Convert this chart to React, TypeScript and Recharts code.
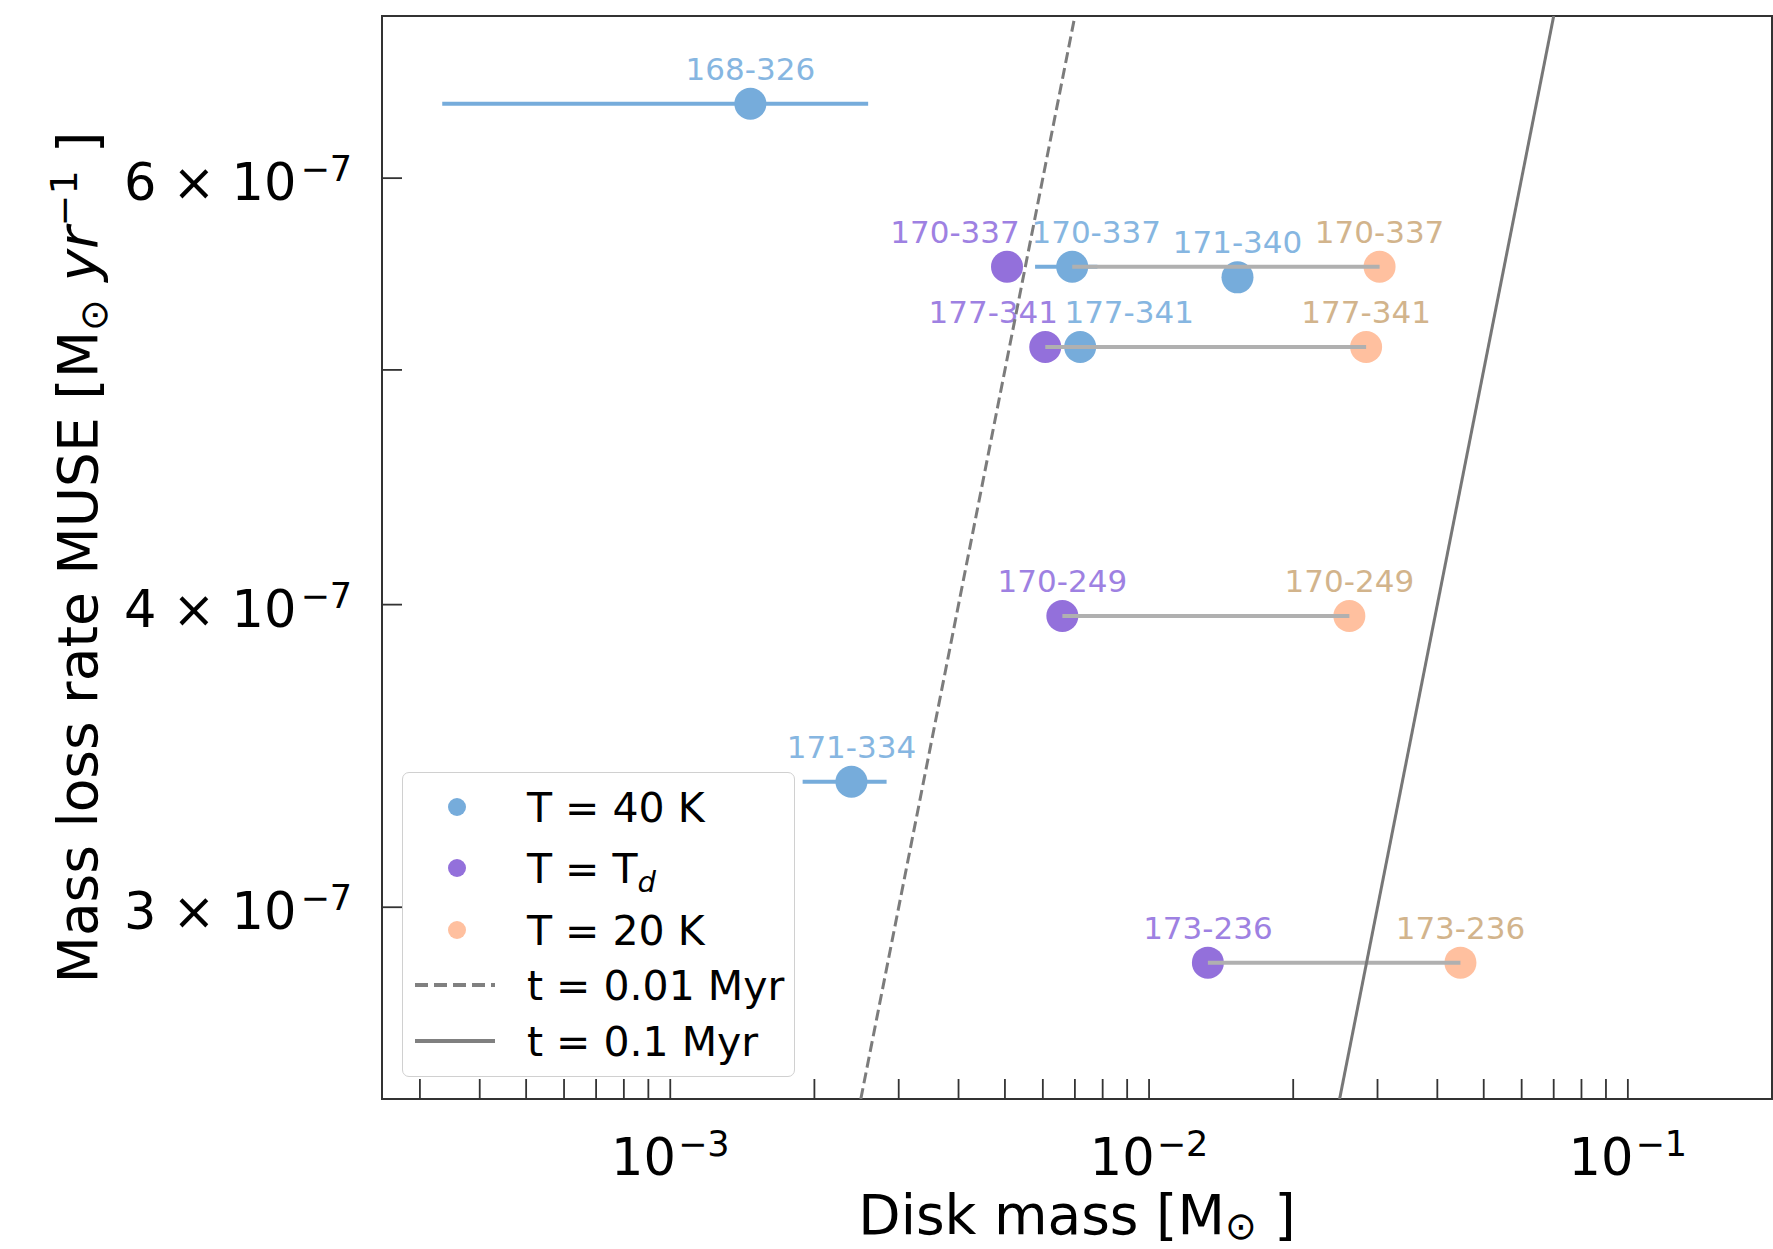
import React from "react";
import { ScatterChart, Scatter, XAxis, YAxis, ErrorBar, ReferenceArea } from "recharts";

const FONT = "'DejaVu Sans', sans-serif";

// T = 40 K
const NAMES_40K = ["168-326", "170-337", "171-340", "177-341", "171-334"];
const MASS_40K = [1.47e-3, 6.91e-3, 1.53e-2, 7.18e-3, 2.39e-3];
const RATE_40K = [6.44e-7, 5.515e-7, 5.46e-7, 5.11e-7, 3.38e-7];
// x error bar extent (low / high disk mass)
const MASS_40K_LOW = [3.34e-4, 5.78e-3, 1.53e-2, 7.18e-3, 1.89e-3];
const MASS_40K_HIGH = [2.59e-3, 7.8e-3, 1.53e-2, 7.18e-3, 2.83e-3];

// T = Td
const NAMES_TD = ["170-337", "177-341", "170-249", "173-236"];
const MASS_TD = [5.05e-3, 6.07e-3, 6.59e-3, 1.327e-2];
const RATE_TD = [5.515e-7, 5.11e-7, 3.957e-7, 2.846e-7];

// T = 20 K
const NAMES_20K = ["170-337", "177-341", "170-249", "173-236"];
const MASS_20K = [3.03e-2, 2.84e-2, 2.62e-2, 4.47e-2];
const RATE_20K = [5.515e-7, 5.11e-7, 3.957e-7, 2.846e-7];
// grey link to each 20 K point starts from this estimate
const LINK_FROM = ["40K", "Td", "Td", "Td"];

// depletion times, yr (0.01 Myr, 0.1 Myr)
const TIMES_YR = [1e4, 1e5];

const X_MIN = 2.5e-4;
const X_MAX = 0.2;
const Y_MIN = 2.5e-7;
const Y_MAX = 7e-7;

const X_TICKS = [
  3e-4, 4e-4, 5e-4, 6e-4, 7e-4, 8e-4, 9e-4, 1e-3,
  2e-3, 3e-3, 4e-3, 5e-3, 6e-3, 7e-3, 8e-3, 9e-3, 1e-2,
  2e-2, 3e-2, 4e-2, 5e-2, 6e-2, 7e-2, 8e-2, 9e-2, 1e-1,
];
const X_LABELS: Record<string, string> = { "0.001": "−3", "0.01": "−2", "0.1": "−1" };
const Y_TICKS = [3e-7, 4e-7, 5e-7, 6e-7];
const Y_LABELS: Record<string, string> = { "3e-7": "3", "4e-7": "4", "6e-7": "6" };

const BLUE = "#76acdb";
const PURPLE = "#9370db";
const PEACH = "#ffc09f";
const BLUE_TXT = "#86b6e1";
const PURPLE_TXT = "#9e81e2";
const PEACH_TXT = "#d2b48c";
const AXIS = "#333";

// nudges for labels that would collide
const LABEL_DX: Record<string, number> = {
  "Td:170-337": -52,
  "40K:170-337": 24,
  "Td:177-341": -52,
  "40K:177-341": 49,
};

const hot = NAMES_40K.map((name, i) => ({
  name,
  m: MASS_40K[i],
  rate: RATE_40K[i],
  err: [MASS_40K[i] - MASS_40K_LOW[i], MASS_40K_HIGH[i] - MASS_40K[i]],
}));
const dust = NAMES_TD.map((name, i) => ({ name, m: MASS_TD[i], rate: RATE_TD[i] }));
const cold = NAMES_20K.map((name, i) => ({ name, m: MASS_20K[i], rate: RATE_20K[i] }));

const links = cold.map((c, i) => {
  const from = (LINK_FROM[i] === "40K" ? hot : dust).find((d) => d.name === c.name)!;
  return [
    { m: from.m, rate: from.rate },
    { m: c.m, rate: c.rate },
  ];
});

const timeLines = TIMES_YR.map((t) => [
  { m: Y_MIN * t, rate: Y_MIN },
  { m: Y_MAX * t, rate: Y_MAX },
]);

const dot = (fill: string, txt: string, key: string) => (props: any) => {
  const { cx, cy, payload } = props;
  const dx = LABEL_DX[`${key}:${payload.name}`] ?? 0;
  return (
    <g>
      <circle cx={cx} cy={cy} r={16} fill={fill} />
      <text x={cx + dx} y={cy - 24} textAnchor="middle" fontSize={31} fontFamily={FONT} fill={txt}>
        {payload.name}
      </text>
    </g>
  );
};

const noShape = () => <g />;

const XTick = (props: any) => {
  const { x, y, payload } = props;
  const exp = X_LABELS[String(payload.value)];
  return (
    <g>
      <line x1={x} x2={x} y1={y} y2={y - 20} stroke={AXIS} strokeWidth={1.8} />
      {exp && (
        <text x={x} y={y + 76} textAnchor="middle" fontSize={51} fontFamily={FONT} fill="#000">
          10
          <tspan dx={2} dy={-19} fontSize={35}>{exp}</tspan>
        </text>
      )}
    </g>
  );
};

const YTick = (props: any) => {
  const { x, y, payload } = props;
  const mant = Y_LABELS[payload.value.toExponential()];
  return (
    <g>
      <line x1={x} x2={x + 20} y1={y} y2={y} stroke={AXIS} strokeWidth={1.8} />
      {mant && (
        <text x={x - 30} y={y + 22} textAnchor="end" fontSize={51} fontFamily={FONT} fill="#000">
          {`${mant} × 10`}
          <tspan dx={4} dy={-19} fontSize={35}>−7</tspan>
        </text>
      )}
    </g>
  );
};

const XTitle = (props: any) => {
  const vb = props.viewBox;
  return (
    <text x={vb.x + vb.width / 2} y={vb.y + 135} textAnchor="middle" fontSize={55} fontFamily={FONT} fill="#000">
      Disk mass [M
      <tspan dy={5} fontSize={38}>⊙</tspan>
      <tspan dy={-5}> ]</tspan>
    </text>
  );
};

const YTitle = (props: any) => {
  const vb = props.viewBox;
  const cx = vb.x + 97;
  const cy = vb.y + vb.height / 2;
  return (
    <text x={cx} y={cy} transform={`rotate(-90, ${cx}, ${cy})`} textAnchor="middle" fontSize={55} fontFamily={FONT} fill="#000">
      Mass loss rate MUSE [M
      <tspan dy={10} fontSize={38}>⊙</tspan>
      <tspan dy={-10}> </tspan>
      <tspan fontStyle="italic">yr</tspan>
      <tspan dy={-20} fontSize={38}>−1</tspan>
      <tspan dy={20}> ]</tspan>
    </text>
  );
};

const LEGEND_ROWS = [
  { kind: "dot", color: BLUE, label: "T = 40 K", y: 35 },
  { kind: "dot", color: PURPLE, label: "T = T", sub: "d", y: 96 },
  { kind: "dot", color: PEACH, label: "T = 20 K", y: 158 },
  { kind: "dash", color: "#808080", label: "t = 0.01 Myr", y: 213 },
  { kind: "solid", color: "#808080", label: "t = 0.1 Myr", y: 269 },
];

function LegendBox() {
  return (
    <div
      style={{
        position: "absolute",
        left: 402,
        top: 772,
        width: 393,
        height: 305,
        boxSizing: "border-box",
        background: "rgba(255,255,255,0.8)",
        border: "1.5px solid #d0d0d0",
        borderRadius: 7,
      }}
    >
      <svg width={393} height={305} style={{ position: "absolute", left: -1.5, top: -1.5 }}>
        {LEGEND_ROWS.map((r, i) => (
          <g key={i}>
            {r.kind === "dot" ? (
              <circle cx={55} cy={r.y} r={9} fill={r.color} />
            ) : (
              <line
                x1={13}
                x2={93}
                y1={r.y}
                y2={r.y}
                stroke={r.color}
                strokeWidth={4}
                strokeDasharray={r.kind === "dash" ? "13 6" : undefined}
              />
            )}
            <text x={125} y={r.y + 15} fontSize={41} fontFamily={FONT} fill="#000">
              {r.label}
              {r.sub && (
                <tspan dy={9} fontSize={29} fontStyle="italic">
                  {r.sub}
                </tspan>
              )}
            </text>
          </g>
        ))}
      </svg>
    </div>
  );
}

export default function App() {
  return (
    <div style={{ position: "absolute", left: 0, top: 0, width: 1773, height: 1249, background: "#fff" }}>
      <ScatterChart width={1773} height={1249} margin={{ top: 16, right: 1, bottom: 0, left: 0 }}>
        <XAxis
          type="number"
          dataKey="m"
          scale="log"
          domain={[X_MIN, X_MAX]}
          allowDataOverflow
          ticks={X_TICKS}
          interval={0}
          tick={<XTick />}
          tickLine={false}
          axisLine={false}
          tickSize={0}
          tickMargin={0}
          height={150}
          label={{ content: (p: any) => <XTitle {...p} /> }}
        />
        <YAxis
          type="number"
          dataKey="rate"
          scale="log"
          domain={[Y_MIN, Y_MAX]}
          allowDataOverflow
          ticks={Y_TICKS}
          interval={0}
          tick={<YTick />}
          tickLine={false}
          axisLine={false}
          tickSize={0}
          tickMargin={0}
          width={382}
          label={{ content: (p: any) => <YTitle {...p} /> }}
        />
        <ReferenceArea x1={X_MIN} x2={X_MAX} y1={Y_MIN} y2={Y_MAX} fill="none" stroke={AXIS} strokeWidth={2} />
        <Scatter data={hot} shape={dot(BLUE, BLUE_TXT, "40K")} isAnimationActive={false}>
          <ErrorBar dataKey="err" direction="x" width={0} stroke={BLUE} strokeWidth={4} />
        </Scatter>
        <Scatter data={dust} shape={dot(PURPLE, PURPLE_TXT, "Td")} isAnimationActive={false} />
        <Scatter data={cold} shape={dot(PEACH, PEACH_TXT, "20K")} isAnimationActive={false} />
        {links.map((pts, i) => (
          <Scatter
            key={`link-${i}`}
            data={pts}
            line={{ stroke: "#b0b0b0", strokeWidth: 4 }}
            shape={noShape}
            isAnimationActive={false}
          />
        ))}
        <Scatter
          data={timeLines[0]}
          line={{ stroke: "#7c7c7c", strokeWidth: 3, strokeDasharray: "11 5" }}
          shape={noShape}
          isAnimationActive={false}
        />
        <Scatter
          data={timeLines[1]}
          line={{ stroke: "#777", strokeWidth: 3 }}
          shape={noShape}
          isAnimationActive={false}
        />
      </ScatterChart>
      <LegendBox />
    </div>
  );
}
